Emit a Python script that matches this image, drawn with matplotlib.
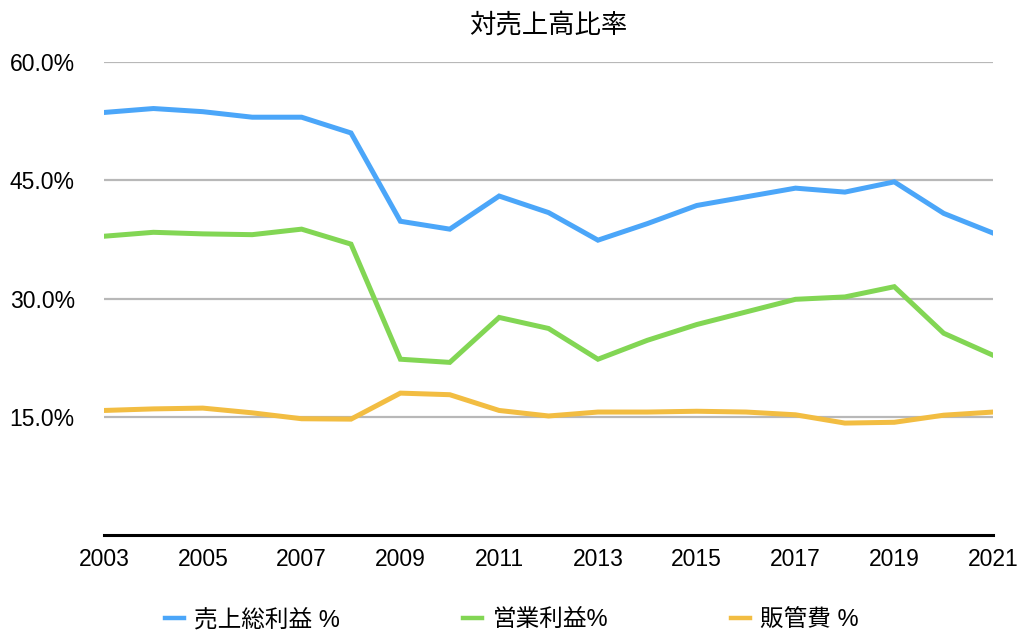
import matplotlib.pyplot as plt
from matplotlib.ticker import FuncFormatter

plt.rcParams['font.family'] = ['Liberation Sans', 'Noto Sans CJK JP']

years = list(range(2003, 2022))
gross_margin = [53.6, 54.1, 53.7, 53.0, 53.0, 51.0, 39.8, 38.8, 43.0, 40.9,
                37.4, 39.5, 41.8, 42.9, 44.0, 43.5, 44.8, 40.8, 38.3]
operating_margin = [37.9, 38.4, 38.2, 38.1, 38.8, 36.9, 22.3, 21.9, 27.6, 26.2,
                    22.3, 24.7, 26.7, 28.3, 29.9, 30.2, 31.5, 25.6, 22.8]
sga_ratio = [15.8, 16.0, 16.1, 15.5, 14.75, 14.7, 18.0, 17.8, 15.8, 15.1,
             15.6, 15.6, 15.7, 15.6, 15.25, 14.2, 14.3, 15.2, 15.6]
labels = ['売上総利益 %', '営業利益%', '販管費 %']
colors = ['#4ba6f9', '#82d654', '#f2bd42']
yticks = [15, 30, 45, 60]

fig = plt.figure(figsize=(10.24, 6.38), dpi=100)
ax = fig.add_axes([0.1016, 0.1614, 0.8682, 0.7414])

for vals, lab, col in zip([gross_margin, operating_margin, sga_ratio], labels, colors):
    ax.plot(years, vals, color=col, linewidth=3.6, label=lab, solid_joinstyle='miter', zorder=3)

ax.set_xlim(2003, 2021)
ax.set_ylim(0, 60)
ax.set_yticks(yticks)
ax.yaxis.set_major_formatter(FuncFormatter(lambda v, p: f'{v:.1f}%'))
ax.set_xticks(years[::2])
ax.grid(axis='y', color='#b8b8b8', linewidth=1.6, zorder=1)
ax.tick_params(length=0, labelsize=16.5)
ax.tick_params(axis='y', pad=21)
ax.tick_params(axis='x', pad=9)
for s in ['top', 'right', 'left']:
    ax.spines[s].set_visible(False)
ax.spines['bottom'].set_linewidth(2.2)
ax.spines['bottom'].set_color('black')
ax.spines['bottom'].set_zorder(4)

ax.set_title('対売上高比率', fontsize=19, pad=21)

leg = fig.legend(loc='center', bbox_to_anchor=(0.5, 0.028), ncol=3, frameon=False,
                 fontsize=17, handlelength=0.8, handletextpad=0.45, columnspacing=5.2)
for h in leg.get_lines():
    h.set_linewidth(3.2)

fig.savefig('out.png', dpi=100)
